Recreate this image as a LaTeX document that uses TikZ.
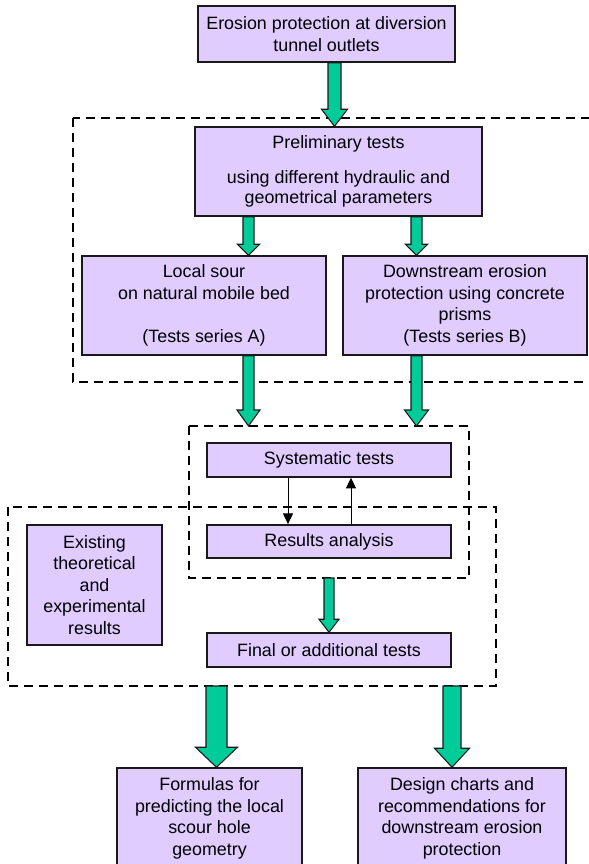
\documentclass[tikz,border=0pt]{standalone}
\usepackage{fontspec}
\setmainfont{Liberation Sans}
\usetikzlibrary{calc,arrows.meta}
\definecolor{boxfill}{RGB}{224,204,255}
\definecolor{flowgreen}{RGB}{0,204,153}
\def\fatarrow(#1)(#2)(#3:#4:#5){\draw[fatarrow] ($(#1)+(-#3,0)$) -- ($(#2)+(-#3,-#5)$) -- ($(#2)+(-#4,-#5)$) -- (#2) -- ($(#2)+(#4,-#5)$) -- ($(#2)+(#3,-#5)$) -- ($(#1)+(#3,0)$) -- cycle;}
\tikzset{
	stepbox/.style={draw=black!90, line width=1.1pt, fill=boxfill, align=center, inner sep=0pt, font=\fontsize{13.4pt}{16.1pt}\selectfont},
	fatarrow/.style={draw=black!90, line width=0.8pt, fill=flowgreen, line join=miter},
	dashbox/.style={line width=1.3pt, dash pattern=on 6.75pt off 4.5pt},
	thinarrow/.style={line width=0.75pt, -{Triangle[length=8pt,width=7.5pt]}},
}

\begin{document}
\begin{tikzpicture}[x=0.75pt, y=-0.75pt]
			%%%%% START %%%%%
			\clip (0, 0) rectangle (589, 864);
			\useasboundingbox (0, 0) rectangle (589, 864);
			
			% dashed frames
			\coordinate (d1nw) at (73, 118);
			\coordinate (d1se) at (600, 382);
			\coordinate (d2nw) at (189, 426);
			\coordinate (d2se) at (469, 578);
			\coordinate (d3nw) at (8, 507);
			\coordinate (d3se) at (496, 686);
			\draw[dashbox] (d1nw) rectangle (d1se);
			\draw[dashbox] (d2nw) rectangle (d2se);
			\draw[dashbox] (d3nw) rectangle (d3se);
			
			% boxes
			\node[stepbox, minimum width=192.75pt, minimum height=42pt] (outlets) at (326.5, 34) {Erosion protection at diversion\\tunnel outlets};
			\node[stepbox, minimum width=215.25pt, minimum height=66.75pt] (prelim) at (338.5, 171.5) {Preliminary tests\\[10pt]using different hydraulic and\\[-1pt]geometrical parameters};
			\node[stepbox, minimum width=183pt, minimum height=74.25pt] (seriesA) at (204, 305.5) {Local sour\\on natural mobile bed\\[16.1pt](Tests series A)};
			\node[stepbox, minimum width=183pt, minimum height=74.25pt] (seriesB) at (465, 305.5) {Downstream erosion\\protection using concrete\\prisms\\(Tests series B)};
			
			\node[stepbox, minimum width=183pt, minimum height=25.5pt] (systematic) at (329, 460) {Systematic tests};
			\node[stepbox, minimum width=183pt, minimum height=25pt] (analysis) at (329, 541.5) {Results analysis};
			\node[stepbox, minimum width=183pt, minimum height=25.5pt] (final) at (329, 650) {Final or additional tests};
			\node[stepbox, minimum width=101.25pt, minimum height=90pt] (existing) at (94.5, 585) {Existing\\theoretical\\and\\experimental\\results};
			
			\node[stepbox, minimum width=138.75pt, minimum height=75.75pt] (formulas) at (209.5, 818.5) {Formulas for\\predicting the local\\scour hole\\geometry};
			\node[stepbox, minimum width=156pt, minimum height=75.75pt] (charts) at (462, 818.5) {Design charts and\\recommendations for\\downstream erosion\\protection};
			
			% green arrows
			\fatarrow(334.5,0 |- outlets.south)(334.5,0 |- prelim.north)(6.5:13:17)
			\fatarrow(248.5,0 |- prelim.south)(248.5,0 |- seriesA.north)(5.5:11:11)
			\fatarrow(416.5,0 |- prelim.south)(416.5,0 |- seriesB.north)(5.5:11:11)
			\fatarrow(248.5,0 |- seriesA.south)(248.5,0 |- d2nw)(5.5:11.5:16)
			\fatarrow(416.5,0 |- seriesB.south)(416.5,0 |- d2nw)(5.5:12:16)
			\fatarrow(329,0 |- d2se)(329,0 |- final.north)(5:10:13)
			\fatarrow(216.5,0 |- d3se)(216.5,0 |- formulas.north)(10.5:21:20)
			\fatarrow(452,0 |- d3se)(452,0 |- charts.north)(9:17.5:19)
			
			% loop between tests and analysis
			\draw[thinarrow] (288,0 |- systematic.south) -- (288,0 |- analysis.north);
			\draw[thinarrow] (351,0 |- analysis.north) -- (351,0 |- systematic.south);
			
			%%%%% END %%%%%
\end{tikzpicture}
\end{document}
